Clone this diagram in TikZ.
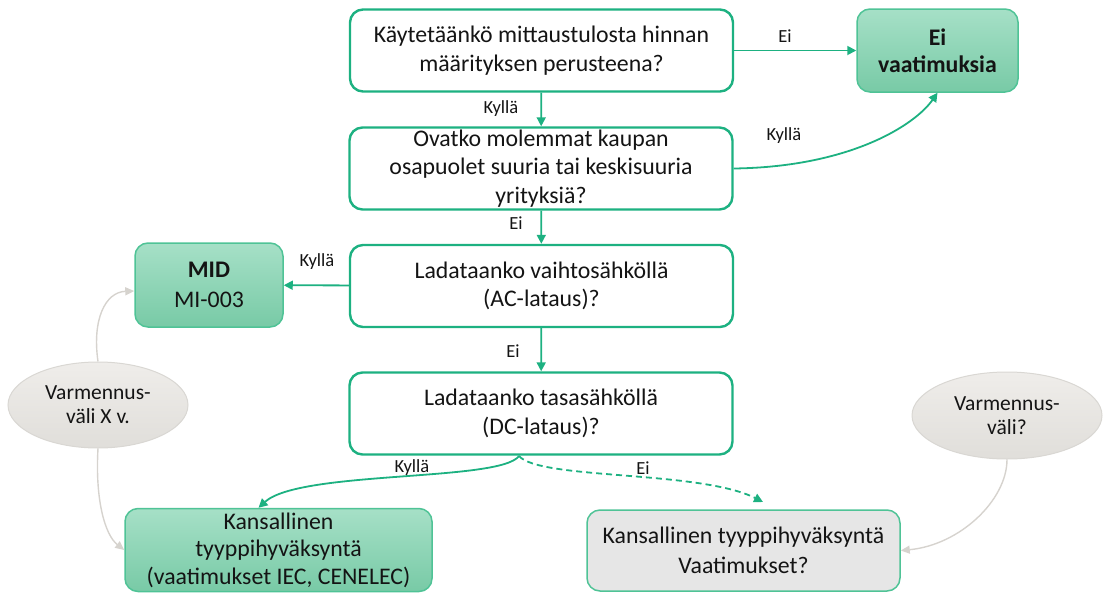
\documentclass[tikz,border=0pt]{standalone}
\usepackage{fontspec}
\setmainfont{Carlito}
\usepackage{tikz}
\usetikzlibrary{arrows.meta,shapes.geometric}
\definecolor{ink}{HTML}{141414}
\definecolor{flow}{HTML}{1DB181}
\definecolor{filltop}{HTML}{A6E0C7}
\definecolor{fillbot}{HTML}{78CAA6}
\definecolor{fillline}{HTML}{4FC396}
\definecolor{greyfill}{HTML}{E6E6E6}
\definecolor{ovaltop}{HTML}{EFEDEA}
\definecolor{ovalbot}{HTML}{E0DEDA}
\definecolor{ovalline}{HTML}{D9D7D3}
\definecolor{greyarrow}{HTML}{D6D3CE}
\tikzset{
  question/.style={draw=flow, line width=2.4pt, rounded corners=13pt, fill=white, minimum width=383pt, minimum height=82pt, inner sep=0pt, align=center, text=ink, font=\fontsize{23.8}{28.5}\selectfont},
  result/.style={draw=fillline, line width=1.5pt, rounded corners=13pt, top color=filltop, bottom color=fillbot, inner sep=0pt, align=center, text=ink, font=\fontsize{23.8}{27.5}\selectfont},
  openresult/.style={result, top color=greyfill, bottom color=greyfill},
  oval/.style={ellipse, draw=ovalline, line width=1pt, top color=ovaltop, bottom color=ovalbot, inner sep=0pt, align=center, text=ink, font=\fontsize{21.5}{24}\selectfont},
  solidline/.style={draw=flow, line width=1.8pt, -{Triangle[length=9pt,width=9pt]}},
  dashedline/.style={solidline, dash pattern=on 6pt off 4pt},
  faint/.style={draw=greyarrow, line width=1.4pt, -{Triangle[length=9pt,width=8pt]}},
  lab/.style={text=ink, font=\fontsize{18.5}{20}\selectfont},
}
\begin{document}
\begin{tikzpicture}[x=1pt,y=-1pt]
  \useasboundingbox (0,0) rectangle (1103,592);

  % questions
  \node[question] (q1) at (541.5,50.5) {Käytetäänkö mittaustulosta hinnan\\määrityksen perusteena?};
  \node[question] (q2) at (541,168.5) {Ovatko molemmat kaupan\\osapuolet suuria tai keskisuuria\\yrityksiä?};
  \node[question] (q3) at (541.5,286) {Ladataanko vaihtosähköllä\\(AC-lataus)?};
  \node[question] (q4) at (541,413.5) {Ladataanko tasasähköllä\\(DC-lataus)?};

  % results
  \node[result, minimum width=161pt, minimum height=83pt] (none) at (937.5,50.5) {\textbf{Ei}\\\textbf{vaatimuksia}};
  \node[result, minimum width=148pt, minimum height=84pt, font=\fontsize{23.8}{30}\selectfont] (mid) at (209,285) {\textbf{MID}\\MI-003};
  \node[result, minimum width=307pt, minimum height=83pt] (natl) at (278.5,550) {Kansallinen\\tyyppihyväksyntä\\(vaatimukset IEC, CENELEC)};
  \node[openresult, minimum width=313pt, minimum height=81pt, font=\fontsize{23.8}{30}\selectfont] (natr) at (743.5,550.5) {Kansallinen tyyppihyväksyntä\\Vaatimukset?};

  % intervals
  \node[oval, minimum width=180pt, minimum height=86pt] (ovl) at (98,405) {Varmennus-\\väli X v.};
  \node[oval, minimum width=190pt, minimum height=87pt] (ovr) at (1007,415.5) {Varmennus-\\väli?};

  \coordinate (split) at (519,456);
  \coordinate (dctip) at (763,502);

  \draw[solidline] (q1) -- (none);
  \draw[solidline] (q1) -- (q2);
  \draw[solidline] (q2.east) .. controls (850,167) and (915,125) .. (none.south);
  \draw[solidline] (q2) -- (q3);
  \draw[solidline] (q3) -- (mid);
  \draw[solidline] (q3) -- (q4);
  \draw[solidline] (split) .. controls (500,482) and (300,470) .. ([xshift=-20pt]natl.north);
  \draw[dashedline] (split) .. controls (540,480) and (700,470) .. (dctip);

  \draw[faint] (ovl.north) .. controls (92,320) and (105,292) .. ([yshift=-6pt]mid.west);
  \draw[faint] (ovl.south) .. controls (95,500) and (105,535) .. (natl.west);
  \draw[faint] (ovr.south) .. controls (1007,500) and (960,545) .. (natr.east);

  \node[lab] at (785,36) {Ei};
  \node[lab] at (501,109) {Kyllä};
  \node[lab] at (784,136) {Kyllä};
  \node[lab] at (516,223) {Ei};
  \node[lab] at (317,262) {Kyllä};
  \node[lab] at (513,351) {Ei};
  \node[lab] at (412,468) {Kyllä};
  \node[lab] at (643,468) {Ei};
\end{tikzpicture}
\end{document}
